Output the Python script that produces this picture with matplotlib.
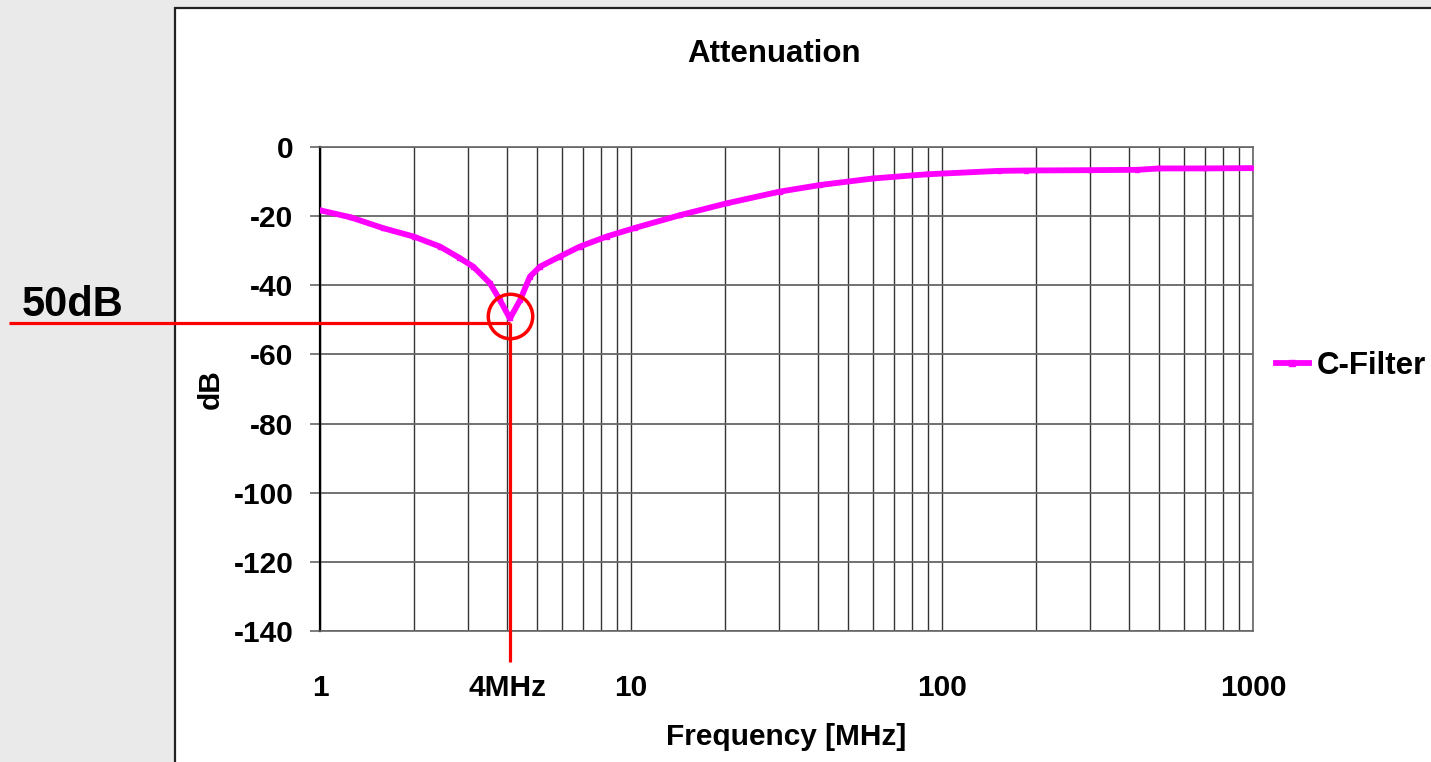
import matplotlib.pyplot as plt
from matplotlib.patches import Rectangle
from matplotlib.ticker import LogLocator, NullFormatter

plt.rcParams['font.family'] = ['Liberation Sans', 'DejaVu Sans']
plt.rcParams['font.weight'] = 'bold'

# data
freq_mhz = [1, 1.25, 1.6, 2.0, 2.43, 2.8, 3.11, 3.52, 3.79, 4.08,
            4.4, 4.73, 5.1, 5.9, 6.85, 8.35, 10.3, 14.4, 20.3, 30.1,
            40.5, 60.1, 89.3, 153, 186, 300, 425, 500, 700, 1000]
atten_db = [-18.3, -20.3, -23.5, -25.9, -28.8, -32.0, -34.6, -39.4, -44.3, -49.6,
            -44.3, -37.5, -34.6, -31.7, -28.8, -25.9, -23.4, -19.7, -16.3, -12.9,
            -11.0, -9.1, -7.9, -6.9, -6.8, -6.7, -6.6, -6.2, -6.2, -6.1]
series_name = 'C-Filter'

y_ticks = [0, -20, -40, -60, -80, -100, -120, -140]
y_labels = ['0', '-20', '-40', '-60', '-80', '-100', '-120', '-140']
x_ticks = [1, 4, 10, 100, 1000]
x_labels = ['1', '4MHz', '10', '100', '1000']

notch_freq = 4.08       # MHz, marked frequency
notch_db = -49.0        # circle centre
marker_db = -51.0       # red reference line
depth_label = '50dB'

W, H = 1431, 762
fig = plt.figure(figsize=(W / 100, H / 100), dpi=100, facecolor='#eaeaea')

# white chart box
fig.patches.append(Rectangle((175 / W, -0.05), 1.0, 1 - 8 / H + 0.05,
                             transform=fig.transFigure, facecolor='white',
                             edgecolor='#222222', linewidth=1.6, zorder=-5))

ax = fig.add_axes([320 / W, 1 - 631 / H, 933 / W, 484 / H])
ax.set_facecolor('white')

ax.plot(freq_mhz, atten_db, color='#ff00ff', lw=4.2, marker='s', ms=3,
        solid_joinstyle='round', label=series_name, zorder=5)

ax.set_xscale('log')
ax.set_xlim(1, 1000)
ax.set_ylim(-140, 0)

ax.xaxis.set_minor_locator(LogLocator(base=10, subs=range(1, 10)))
ax.xaxis.set_minor_formatter(NullFormatter())
ax.set_xticks(x_ticks)
ax.set_xticklabels(x_labels)
ax.set_yticks(y_ticks)
ax.set_yticklabels(y_labels)

ax.grid(True, which='both', axis='x', color='#333333', lw=1.0)
ax.grid(True, which='major', axis='y', color='#666666', lw=1.3)

ax.tick_params(axis='x', which='both', length=0, pad=31, labelsize=21.5)
ax.tick_params(axis='y', length=7.2, width=1.2, color='#666666', pad=12,
               labelsize=21.5)

for s in ['top', 'right', 'bottom']:
    ax.spines[s].set_color('#666666')
    ax.spines[s].set_linewidth(1.2)
ax.spines['left'].set_color('black')
ax.spines['left'].set_linewidth(1.6)

ax.set_xlabel('Frequency [MHz]', fontsize=21.5, fontweight='bold', labelpad=15)
ax.set_ylabel('dB', fontsize=21.5, fontweight='bold', labelpad=6)

fig.text(774 / W, 1 - 54 / H, 'Attenuation', ha='center', va='center',
         fontsize=22.5, fontweight='bold')

# red markers of the notch
ax.plot([0.1, notch_freq], [marker_db, marker_db], color='red', lw=2.3,
        clip_on=False, zorder=6, solid_capstyle='butt')
ax.plot([notch_freq, notch_freq], [marker_db, -149], color='red', lw=2.3,
        clip_on=False, zorder=6, solid_capstyle='butt')
ax.plot([notch_freq], [notch_db], 'o', mfc='none', mec='red', ms=32, mew=2.5,
        clip_on=False, zorder=7)
fig.text(22 / W, 1 - 316 / H, depth_label, ha='left', va='baseline',
         fontsize=30, fontweight='bold')

fig.legend(loc='center left', bbox_to_anchor=(1276 / W, 1 - 366 / H),
           frameon=False, fontsize=22.5, handlelength=1.05, handletextpad=0.25,
           borderpad=0, borderaxespad=0, markerscale=1.6)

fig.savefig('out.png', dpi=100, facecolor=fig.get_facecolor())
